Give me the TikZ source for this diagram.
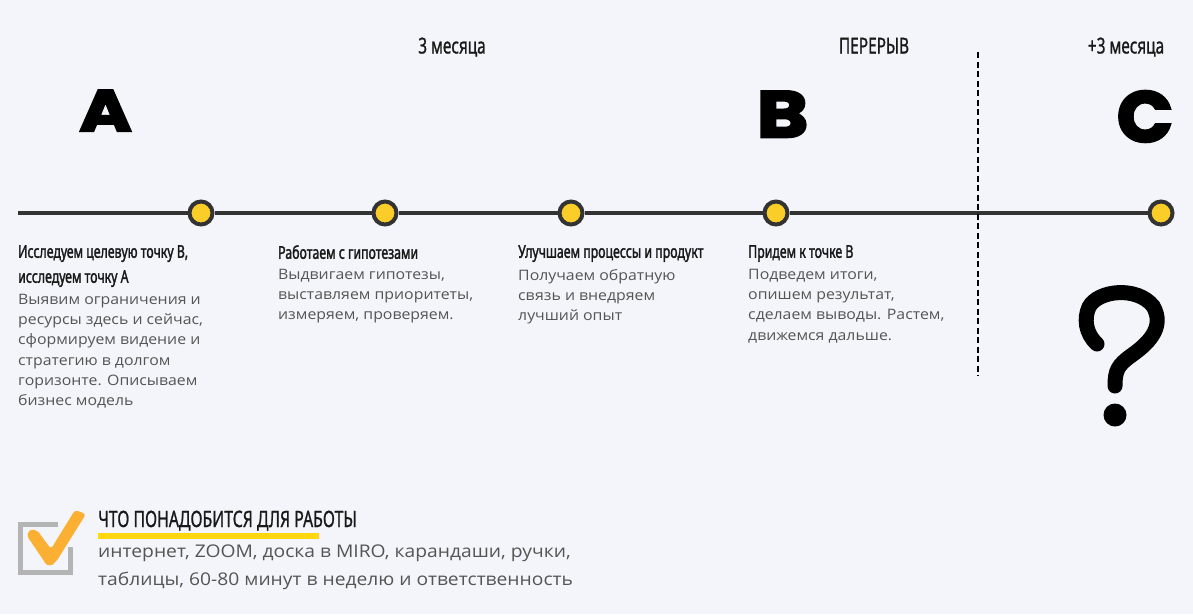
\documentclass[tikz,border=0pt]{standalone}
\usepackage{fontspec}
\setmainfont{Open Sans}
\newfontfamily\bodyf[FakeStretch=1.1]{Open Sans}
\newfontfamily\headf[FakeStretch=0.7,FakeBold=0.9]{Noto Sans}
\newfontfamily\headbf[FakeStretch=0.7,FakeBold=1.7]{Noto Sans}
\newfontfamily\bigaf[BoldFeatures={FakeBold=4,FakeStretch=1.22}]{Poppins}
\newfontfamily\bigbf[BoldFeatures={FakeBold=4,FakeStretch=1.2}]{Poppins}
\newfontfamily\bigcf[BoldFeatures={FakeBold=4,FakeStretch=1.03}]{Poppins}
\definecolor{bgc}{HTML}{F4F5FA}
\definecolor{linec}{HTML}{333333}
\definecolor{dotc}{HTML}{FBCD28}
\definecolor{bodyc}{HTML}{555555}
\definecolor{ulc}{HTML}{FFD60F}
\definecolor{chk}{HTML}{FBB034}
\definecolor{boxc}{HTML}{B4B4B4}
\tikzset{
 dot/.style={circle,draw=linec,line width=4pt,fill=dotc,minimum size=23pt,inner sep=0pt},
 period/.style={font=\headf\fontsize{22}{24}\selectfont,anchor=base,text=black!90},
 letter/.style={anchor=base,text=black,inner sep=0pt},
 head/.style={font=\headbf\fontsize{17.6}{25}\selectfont,anchor=north west,align=left,inner sep=0pt,text=black!90},
 body/.style={font=\bodyf\fontsize{14.4}{20.2}\selectfont,anchor=north west,align=left,inner sep=0pt,text=bodyc},
}
\begin{document}
\begin{tikzpicture}[x=1pt,y=-1pt]
\useasboundingbox[fill=bgc] (0,0) rectangle (1193,614);
\coordinate (s) at (18,213);
\coordinate (dt) at (978,52);
\coordinate (db) at (978,376);
\node[dot] (d1) at (201,213) {};
\node[dot] (d2) at (385,213) {};
\node[dot] (d3) at (571,213) {};
\node[dot] (d4) at (776,213) {};
\node[dot] (d5) at (1161,213) {};
\draw[linec,line width=4pt] (s) -- (d1) (d1) -- (d2) (d2) -- (d3) (d3) -- (d4) (d4) -- (d5);
\draw[black,line width=2pt,dash pattern=on 6pt off 3.5pt] (dt) -- (db);
\node[period] (t1) at (452,53.5) {3 месяца};
\node[period] (t2) at (874,53.5) {ПЕРЕРЫВ};
\node[period] (t3) at (1126,53.5) {+3 месяца};
\node[letter,font=\bigaf\bfseries\fontsize{58}{58}\selectfont] (la) at (105.5,131) {A};
\node[letter,font=\bigbf\bfseries\fontsize{65}{65}\selectfont] (lb) at (782.5,137) {B};
\node[letter,font=\bigcf\bfseries\fontsize{71}{71}\selectfont] (lc) at (1145,141.5) {C};
\node[head] (h1) at (18,245) {Исследуем целевую точку В,\\исследуем точку А};
\node[body] (b1) at (18,294) {Выявим ограничения и\\ресурсы здесь и сейчас,\\сформируем видение и\\стратегию в долгом\\горизонте. Описываем\\бизнес модель};
\node[head] (h2) at (278,245) {Работаем с гипотезами};
\node[body] (b2) at (278,269) {Выдвигаем гипотезы,\\выставляем приоритеты,\\измеряем, проверяем.};
\node[head] (h3) at (518,245) {Улучшаем процессы и продукт};
\node[body] (b3) at (518,269) {Получаем обратную\\связь и внедряем\\лучший опыт};
\node[head] (h4) at (748,245) {Придем к точке В};
\node[body] (b4) at (748,269) {Подведем итоги,\\опишем результат,\\сделаем выводы. Растем,\\движемся дальше.};
\draw[black,line width=15pt,line cap=round] (1097,344) .. controls (1085,333) and (1084,318) .. (1089,307) .. controls (1098,290) and (1137,286) .. (1153,306) .. controls (1166,328) and (1146,345) .. (1132,355) .. controls (1118,365) and (1115,370) .. (1115,386);
\fill[black] (1115,415) circle (11.5pt);
\draw[boxc,line width=5pt] (58,524.5) -- (20.5,524.5) -- (20.5,572.5) -- (70.5,572.5) -- (70.5,547);
\draw[chk,line width=11pt,line cap=round,line join=round] (33,535) -- (50,560);
\fill[chk,rounded corners=3pt] (28,533) -- (37,530) -- (51,549) -- (75,510) -- (86,514) -- (56,562) -- (47,566) -- cycle;
\fill[ulc] (98,533) rectangle (319,539);
\node[font=\headf\fontsize{22.6}{24}\selectfont,anchor=base west,inner sep=0pt,text=black!90] (th) at (98,527) {ЧТО ПОНАДОБИТСЯ ДЛЯ РАБОТЫ};
\node[font=\bodyf\fontsize{17.5}{28}\selectfont,anchor=north west,align=left,inner sep=0pt,text=bodyc] (tb) at (98,545) {интернет, ZOOM, доска в MIRO, карандаши, ручки,\\таблицы, 60-80 минут в неделю и ответственность};
\end{tikzpicture}
\end{document}
